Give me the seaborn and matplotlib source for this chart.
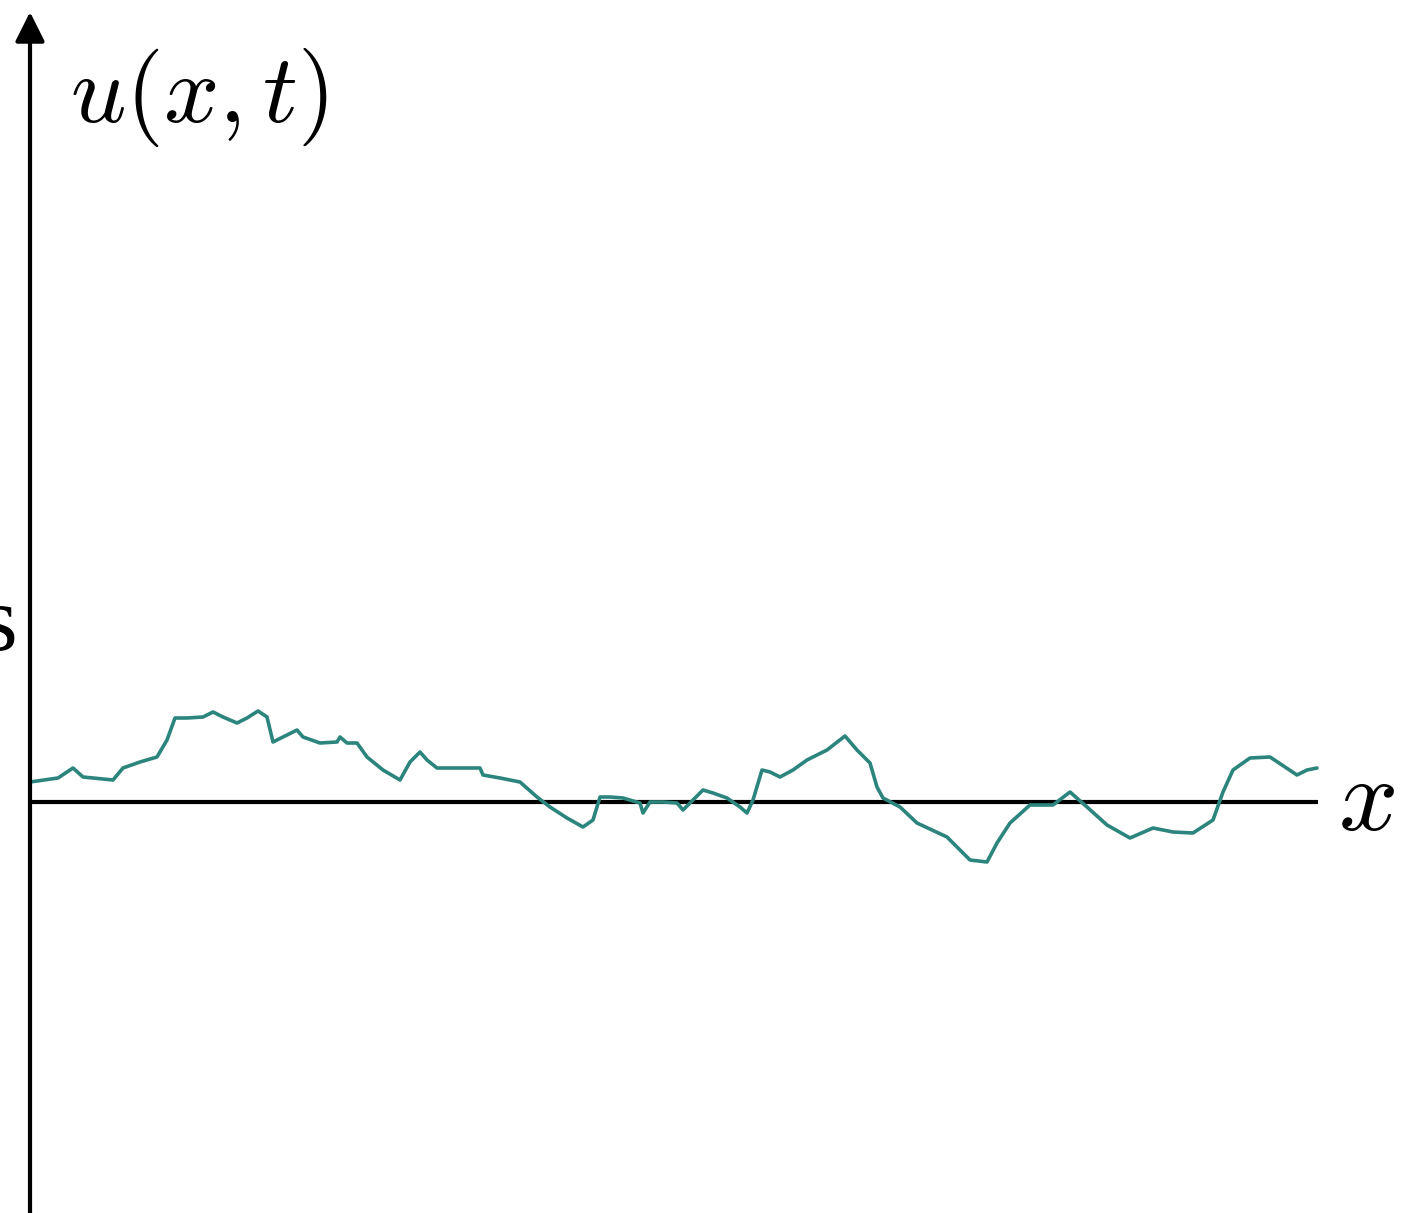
import numpy as np
import pandas as pd
import matplotlib
matplotlib.use("Agg")
import matplotlib.pyplot as plt
import seaborn as sns

sns.set_style("white")
plt.rcParams['mathtext.fontset'] = 'cm'
plt.rcParams['text.color'] = 'black'

# profil u(x,t) (x od osi pionowej, u w gore od osi x)
x_vals = [0, 28, 43, 53, 83, 93, 110, 127, 137, 145, 157, 173, 183, 193, 207, 217, 228, 237,
          243, 253, 267, 273, 290, 307, 310, 317, 327, 337, 353, 370, 380, 390, 397, 407, 440,
          450, 453, 470, 490, 507, 520, 537, 553, 563, 570, 580, 593, 610, 613, 620, 633, 647,
          653, 660, 673, 683, 697, 710, 717, 723, 732, 740, 750, 763, 777, 797, 815, 827, 840,
          847, 853, 870,
          887, 917, 940, 957, 967, 980, 1000, 1023, 1040, 1057, 1077, 1100, 1123, 1143, 1163,
          1183, 1193, 1203, 1220, 1240, 1267, 1277, 1287]
u_vals = [20, 24, 34, 25, 22, 34, 40, 45, 62, 84, 84, 85, 90, 85, 79, 84, 91, 85,
          60, 65, 72, 65, 59, 60, 65, 59, 59, 45, 32, 22, 40, 50, 42, 34, 34,
          34, 27, 24, 20, 5, -5, -16, -25, -18, 5, 5, 4, -1, -11, 0, 0, -1,
          -8, -1, 12, 9, 4, -5, -11, 2, 32, 30, 25, 32, 42, 52, 66, 52, 39,
          15, 4, -5,
          -21, -35, -58, -60, -41, -21, -3, -3, 10, -5, -23, -36, -26, -30, -31,
          -18, 10, 32, 44, 45, 27, 32, 34]

x_end = 1288
u_bottom, u_top = -411, 802

df = pd.DataFrame({'x': x_vals, 'u': u_vals})

fig = plt.figure(figsize=(14.02, 12.13), dpi=100)
ax = fig.add_axes([0, 0, 1, 1])

sns.lineplot(data=df, x='x', y='u', ax=ax, color='#2b857c', linewidth=2.6, zorder=3)

# osie
ax.hlines(0, 0, x_end, color='black', linewidth=3, zorder=2)
ax.annotate('', xy=(0, 790), xytext=(0, u_bottom - 5),
            arrowprops=dict(arrowstyle='-|>,head_length=0.9,head_width=0.45',
                            mutation_scale=20, lw=3, color='black',
                            shrinkA=0, shrinkB=0))

ax.text(40, 680, r'$u(x,t)$', fontsize=70, ha='left', va='baseline', color='black')
ax.text(1336, -28, r'$x$', fontsize=75, ha='center', va='baseline', color='black')
ax.text(-13, 152, 's', fontsize=68, family='Liberation Serif', ha='right', va='baseline',
        color='black')

ax.set_xlim(-30, 1372)
ax.set_ylim(u_bottom, u_top)
ax.axis('off')

fig.savefig('out.png', dpi=100)
